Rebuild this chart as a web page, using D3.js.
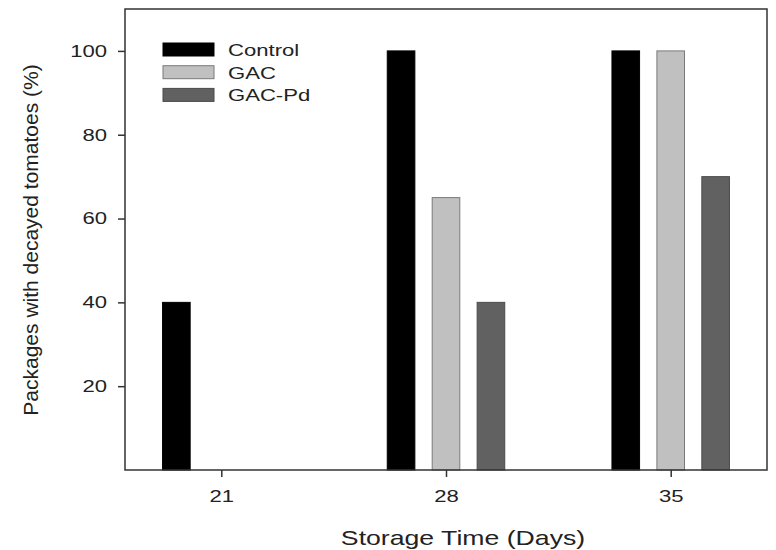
<!DOCTYPE html>
<html>
<head>
<meta charset="utf-8">
<script src="https://cdn.jsdelivr.net/npm/d3@7"></script>
<style>
  body { margin: 0; background: #fff; }
  text { font-family: "Liberation Sans", Arial, sans-serif; fill: #222; }
</style>
</head>
<body>
<div id="chart"></div>
<script>
// Datos
const days = [21, 28, 35];
const series = ["Control", "GAC", "GAC-Pd"];
const control = [40, 100, 100];
const gac = [0, 65, 100];
const gacPd = [0, 40, 70];
const yTicks = [20, 40, 60, 80, 100];

const colors = ["#000000", "#c0c0c0", "#616161"];
const strokes = ["#000000", "#7a7a7a", "#4a4a4a"];
const values = [control, gac, gacPd];

const W = 776, H = 550;
const margin = { top: 9, right: 9, bottom: 80, left: 125 };
const width = W - margin.left - margin.right;
const height = H - margin.top - margin.bottom;
const sx = 1.3; // el texto original aparece ensanchado

const svg = d3.select("#chart")
  .append("svg")
  .attr("width", W)
  .attr("height", H);

const g = svg.append("g")
  .attr("transform", `translate(${margin.left},${margin.top})`);

// Escalas
const x = d3.scaleLinear().domain([18, 38]).range([0, width]);
const y = d3.scaleLinear().domain([0, 110]).range([height, 0]);

const offset = 1.4;   // separacion entre barras (dias)
const barW = 0.86;    // ancho de barra (dias)

// Barras
series.forEach((s, k) => {
  g.selectAll(".bar" + k)
    .data(days.map((d, i) => ({ day: d, v: values[k][i] })).filter(d => d.v > 0))
    .enter()
    .append("rect")
    .attr("x", d => x(d.day + (k - 1) * offset - barW / 2))
    .attr("y", d => y(d.v))
    .attr("width", x(barW) - x(0))
    .attr("height", d => y(0) - y(d.v))
    .attr("fill", colors[k])
    .attr("stroke", strokes[k])
    .attr("stroke-width", 1);
});

// Marco
g.append("rect")
  .attr("width", width)
  .attr("height", height)
  .attr("fill", "none")
  .attr("stroke", "#333")
  .attr("stroke-width", 1.5);

// Ejes
const xAxis = g.append("g")
  .attr("transform", `translate(0,${height})`)
  .call(d3.axisBottom(x).tickValues(days).tickSize(7).tickPadding(13).tickFormat(d3.format("d")));
const yAxis = g.append("g")
  .call(d3.axisLeft(y).tickValues(yTicks).tickSize(7).tickPadding(11));

[xAxis, yAxis].forEach(a => {
  a.select(".domain").remove();
  a.selectAll("line").attr("stroke", "#333").attr("stroke-width", 1.5);
  a.selectAll("text")
    .style("font-family", "'Liberation Sans', Arial, sans-serif")
    .style("font-size", "17px")
    .attr("fill", "#222")
    .attr("x", function() { return (+d3.select(this).attr("x") || 0) / sx; })
    .attr("transform", `scale(${sx},1)`);
});

// Titulos de ejes
svg.append("text")
  .attr("transform", `translate(463,545) scale(${sx},1)`)
  .attr("text-anchor", "middle")
  .style("font-size", "20.5px")
  .text("Storage Time (Days)");

svg.append("text")
  .attr("transform", `translate(38,240) rotate(-90)`)
  .attr("text-anchor", "middle")
  .style("font-size", "21px")
  .text("Packages with decayed tomatoes (%)");

// Leyenda
const legend = g.append("g").attr("transform", "translate(38,34)");
series.forEach((s, k) => {
  const row = legend.append("g").attr("transform", `translate(0,${k * 22.7})`);
  row.append("rect")
    .attr("width", 51)
    .attr("height", 13)
    .attr("fill", colors[k])
    .attr("stroke", strokes[k]);
  row.append("text")
    .attr("transform", `translate(65,13) scale(${sx},1)`)
    .style("font-size", "17px")
    .text(s);
});
</script>
</body>
</html>
